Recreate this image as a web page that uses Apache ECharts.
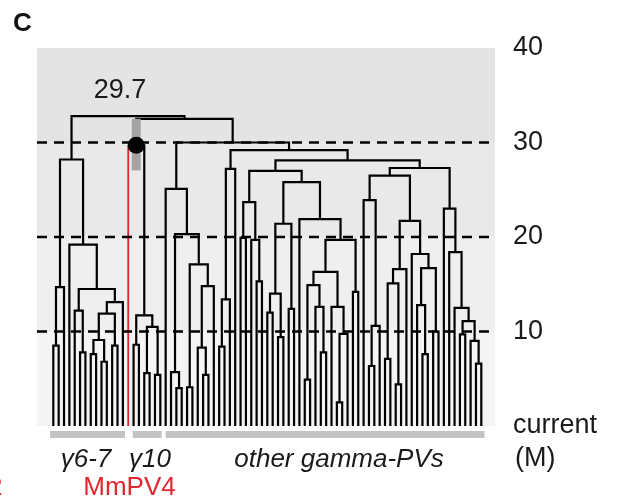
<!DOCTYPE html>
<html lang="en">
<head>
<meta charset="UTF-8">
<title>gamma-PV dendrogram</title>
<script src="https://cdn.jsdelivr.net/npm/echarts@6/dist/echarts.min.js"></script>
<style>html,body{margin:0;padding:0;background:#fff}</style>
</head>
<body>
<div id="main" style="width:624px;height:502px"></div>
<script>
// leaves are numbered 0..80 left to right; a node is [left, right, height in M]
var leafCount = 81;
var redLeaf = 14; // MmPV4
var g67 = [[[0, 1, 8.5], 2, 14.7],
           [3, [[4, [5, 6, 7.8], 12.2],
                [[[[7, 8, 7.6], [9, 10, 6.8], 9.1], [11, 12, 8.5], 11.9], 13, 13.1], 14.5], 19.2], 28.2];
var g10 = [[15, 16, 8.6], [[17, 18, 5.6], [19, 20, 5.4], 10.5], 11.7];
var mmpv4Node = [redLeaf, g10, 29.7];
var otherA1 = [21, [[22, [23, 24, 4.0], 5.7],
                    [[25, 26, 4.1], [[27, [28, 29, 5.4], 8.3], 30, 14.8], 17.1], 20.3], 25.1];
var otherB1 = [[[31, 32, 8.4], 33, 13.4], 34, 27.2];
var otherC1 = [[[35, 36, 19.9], [37, [38, 39, 15.3], 19.7], 23.7],
               [[[[40, 41, 12.0], [42, 43, 9.4], 14.0], [44, 45, 12.4], 21.4],
                [46, [[[[47, 48, 4.9], [49, [50, 51, 7.8], 12.6], 14.9],
                       [52, [[53, 54, 2.5], 55, 9.75], 12.6], 16.3],
                      [56, 57, 14.2], 19.7], 21.9], 25.8], 27.0];
var otherC2 = [[[58, [[59, 60, 6.35], 61, 10.6], 23.9],
                [[[[62, 63, 7.1], [64, 65, 4.4], 15.1], 66, 16.6],
                 [67, [[68, [69, 70, 7.6], 12.8], [71, 72, 10.0], 16.7], 18.2], 21.7], 26.5],
               [73, [74, [75, [[76, 77, 9.7], [78, [79, 80, 6.6], 9.0], 11.1], 12.5], 18.4], 23.0], 27.3];
var otherC = [otherC1, otherC2, 28.1];
var otherB = [otherB1, otherC, 29.2];
var otherA = [otherA1, otherB, 30.0];
var root = [g67, [mmpv4Node, otherA, 32.5], 32.8];

var markedHeight = 29.7;
var ciRange = [27.05, 32.5];
var yTicks = [0, 10, 20, 30, 40];
var dashedLevels = [10, 20, 30];
var cladeNames = ['γ6-7', 'γ10', 'other gamma-PVs'];
var cladeSpans = [[-0.6, 13.4], [14.85, 20.25], [21, 80.6]];

var xMin = -3.05, xMax = 82.56;
var bandColors = ['#f4f4f4', '#efefef', '#e9e9e9', '#e4e4e4'];

var segs = [];
var markX = 0;
function layout(node) {
    if (typeof node === 'number') return { x: node, h: 0 };
    var a = layout(node[0]), b = layout(node[1]), h = node[2];
    if (node[0] === redLeaf) {
        segs.push({ pts: [[a.x, a.h], [a.x, h]], red: true });
        segs.push({ pts: [[a.x, h], [b.x, h], [b.x, b.h]] });
    } else {
        segs.push({ pts: [[a.x, a.h], [a.x, h], [b.x, h], [b.x, b.h]] });
    }
    var c = (a.x + b.x) / 2;
    if (node === mmpv4Node) markX = c;
    return { x: c, h: h };
}
var top = layout(root);
segs.push({ pts: [[top.x, top.h], [top.x, top.h + 0.35]] });

var chart = echarts.init(document.getElementById('main'));
var font = '"Liberation Sans", Arial, sans-serif';

chart.setOption({
    animation: false,
    grid: { left: 37, right: 129, top: 48, bottom: 76 },
    xAxis: { type: 'value', min: xMin, max: xMax, show: false },
    yAxis: {
        type: 'value', position: 'right', min: 0, max: 40, interval: 10,
        axisLine: { show: false }, axisTick: { show: false }, splitLine: { show: false },
        axisLabel: {
            fontSize: 27, color: '#1a1a1a', margin: 18, fontFamily: font,
            formatter: function (v) { return v === 0 ? 'current' : String(v); }
        }
    },
    series: [
        {
            type: 'custom', z: 0, silent: true,
            data: yTicks.slice(0, -1).map(function (v) { return [xMin, v]; }),
            renderItem: function (params, api) {
                var i = params.dataIndex;
                var p1 = api.coord([xMin, yTicks[i + 1]]);
                var p2 = api.coord([xMax, yTicks[i]]);
                return { type: 'rect', shape: { x: p1[0], y: p1[1], width: p2[0] - p1[0], height: p2[1] - p1[1] },
                         style: { fill: bandColors[i] } };
            }
        },
        {
            type: 'custom', z: 2, silent: true,
            data: segs.map(function (s) { return s.pts[0]; }),
            renderItem: function (params, api) {
                var s = segs[params.dataIndex];
                return { type: 'polyline',
                         shape: { points: s.pts.map(function (p) { return api.coord(p); }) },
                         style: { stroke: s.red ? '#e3262d' : '#000', lineWidth: s.red ? 1.8 : 2.2, fill: null } };
            }
        },
        {
            type: 'custom', z: 3, silent: true,
            data: dashedLevels.map(function (v) { return [xMin, v]; }),
            renderItem: function (params, api) {
                var v = dashedLevels[params.dataIndex];
                var p1 = api.coord([xMin, v]), p2 = api.coord([xMax, v]);
                return { type: 'line', shape: { x1: p1[0], y1: p1[1], x2: p2[0], y2: p2[1] },
                         style: { stroke: '#000', lineWidth: 2.5, lineDash: [10, 7] } };
            }
        },
        {
            type: 'custom', z: 4, silent: true,
            data: [[markX, ciRange[1]]],
            renderItem: function (params, api) {
                var p1 = api.coord([markX, ciRange[1]]), p2 = api.coord([markX, ciRange[0]]);
                return { type: 'rect', shape: { x: p1[0] - 4.5, y: p1[1], width: 9, height: p2[1] - p1[1] },
                         style: { fill: '#a4a4a4' } };
            }
        },
        {
            type: 'scatter', z: 5, silent: true,
            data: [[markX, markedHeight]],
            symbolSize: 17,
            itemStyle: { color: '#000', opacity: 1 }
        }
    ]
});

// clade bars and labels under the leaves
var graphics = [];
cladeSpans.forEach(function (s) {
    var a = chart.convertToPixel({ gridIndex: 0 }, [s[0], 0]);
    var b = chart.convertToPixel({ gridIndex: 0 }, [s[1], 0]);
    graphics.push({ type: 'rect', shape: { x: a[0], y: 431, width: b[0] - a[0], height: 7 },
                    style: { fill: '#c3c3c3' } });
});
var labelX = [86, 150, 339];
cladeNames.forEach(function (t, i) {
    graphics.push({ type: 'text', x: labelX[i], y: 460,
                    style: { text: t, font: 'italic 26px ' + font, fill: '#1a1a1a', align: 'center', verticalAlign: 'middle' } });
});
graphics.push({ type: 'text', x: 129.5, y: 488,
                style: { text: 'MmPV4', font: '26px ' + font, fill: '#e3262d', align: 'center', verticalAlign: 'middle' } });
graphics.push({ type: 'text', x: 515, y: 459,
                style: { text: '(M)', font: '27px ' + font, fill: '#1a1a1a', align: 'left', verticalAlign: 'middle' } });
graphics.push({ type: 'text', x: 120, y: 91,
                style: { text: String(markedHeight), font: '27px ' + font, fill: '#1a1a1a', align: 'center', verticalAlign: 'middle' } });
graphics.push({ type: 'text', x: 13, y: 24,
                style: { text: 'C', font: 'bold 26px ' + font, fill: '#111', align: 'left', verticalAlign: 'middle' } });
graphics.push({ type: 'text', x: -12, y: 488,
                style: { text: '2', font: '26px ' + font, fill: '#e3262d', align: 'left', verticalAlign: 'middle' } });
chart.setOption({ graphic: graphics });
</script>
</body>
</html>
